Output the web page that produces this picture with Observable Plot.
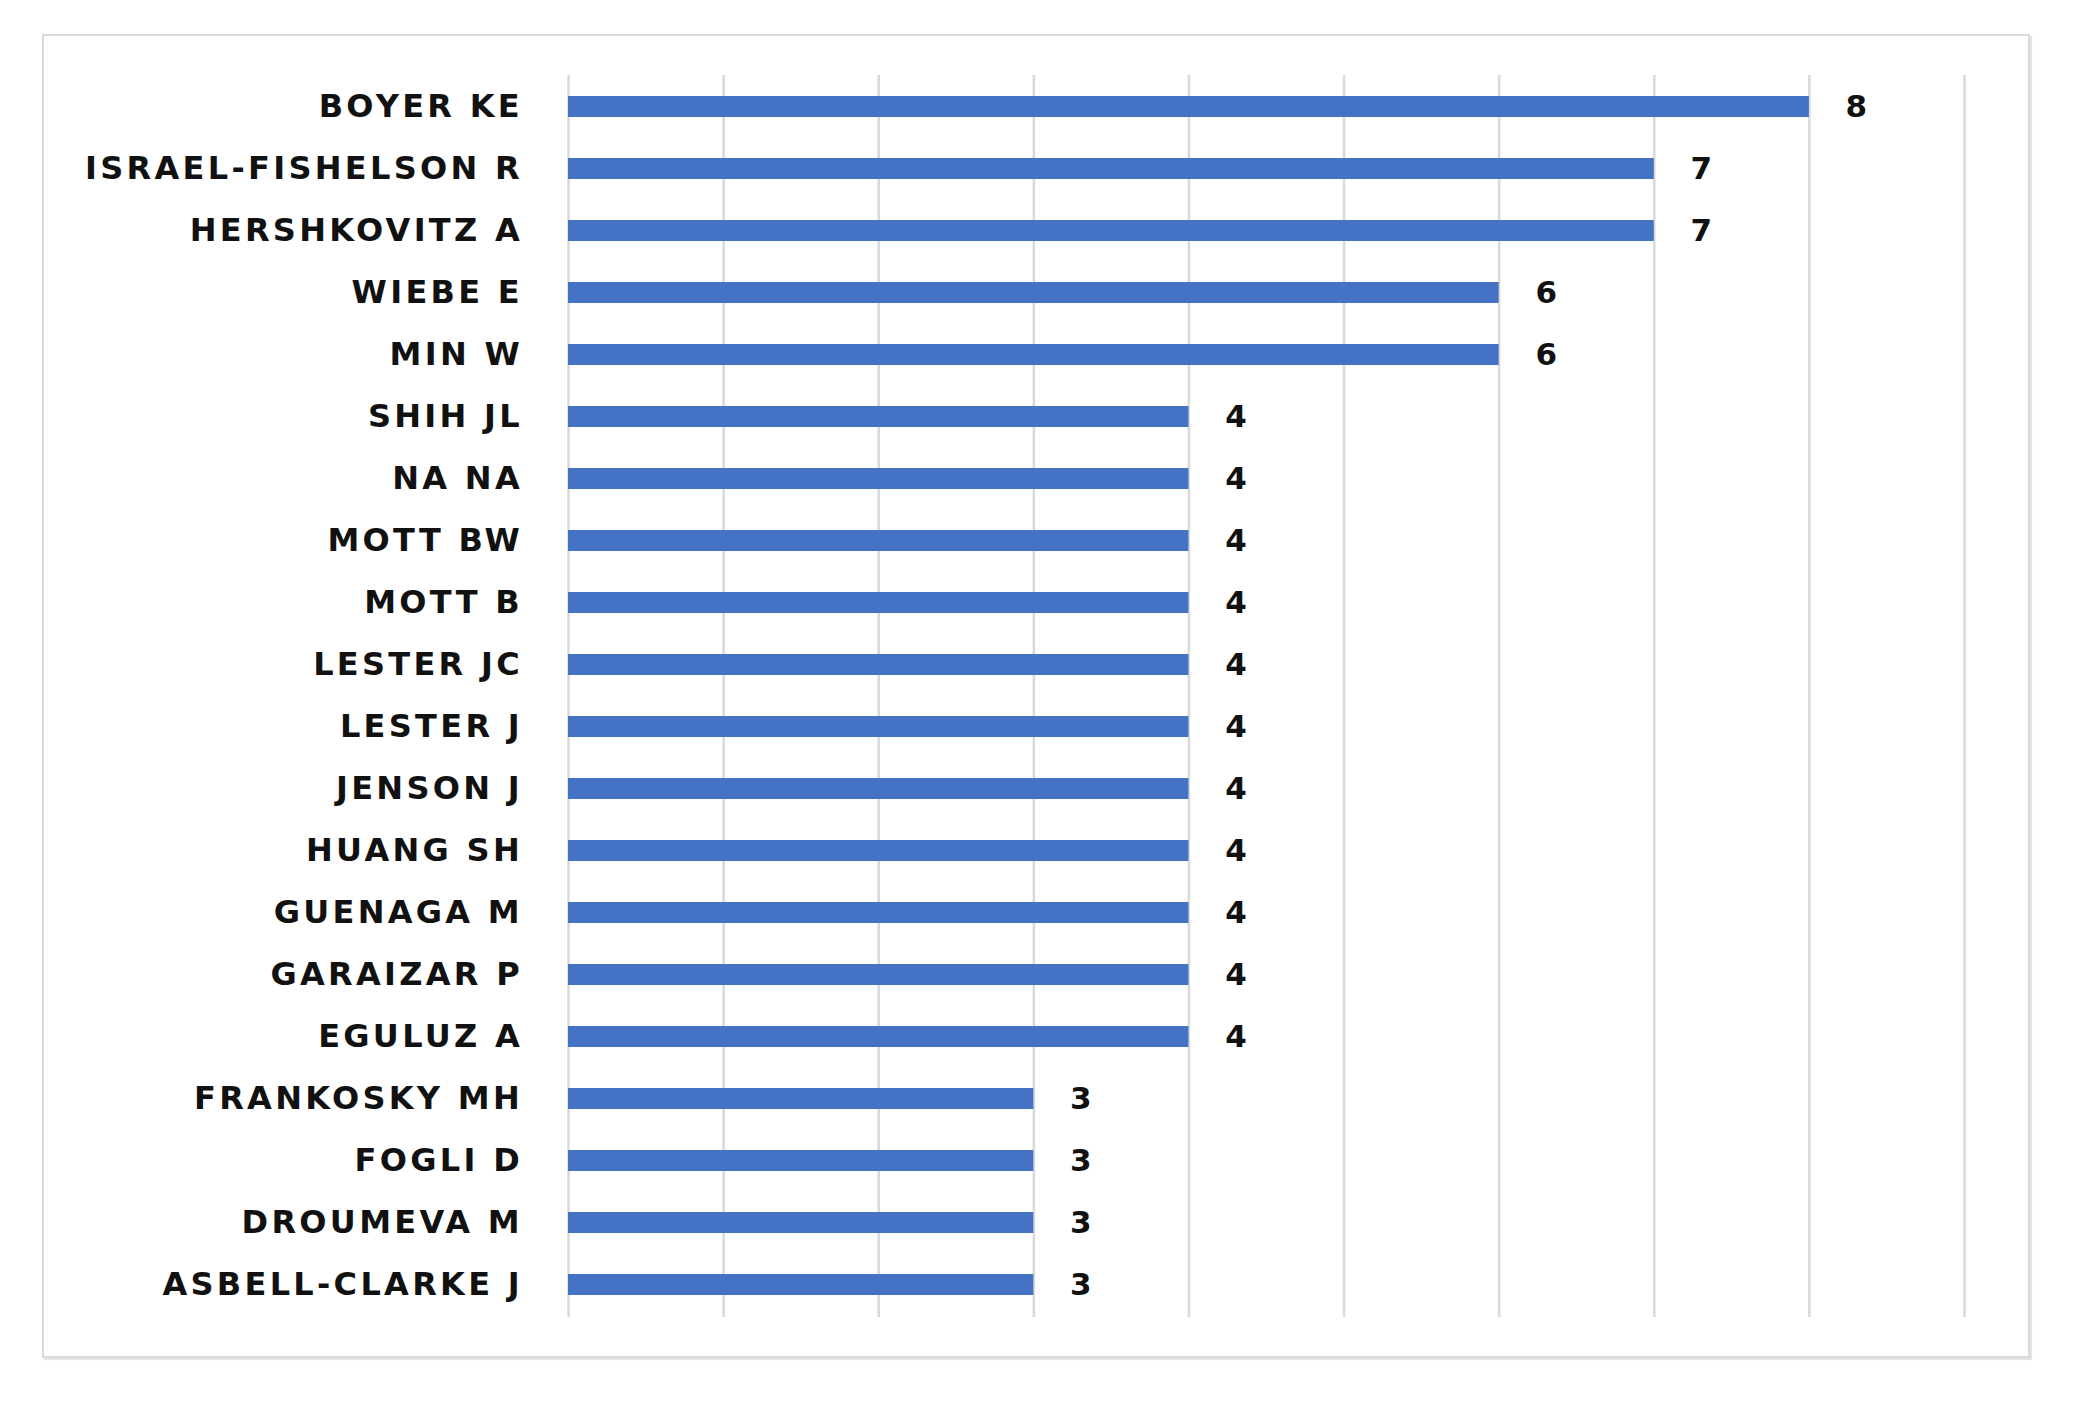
<!DOCTYPE html>
<html>
<head>
<meta charset="utf-8">
<script src="https://cdn.jsdelivr.net/npm/d3@7"></script>
<script src="https://cdn.jsdelivr.net/npm/@observablehq/plot@0.6"></script>
<style>
  html, body { margin: 0; padding: 0; background: #fff; }
  #wrap { position: relative; width: 2076px; height: 1406px; }
  #frame { position: absolute; left: 42px; top: 34px; width: 1984px; height: 1320px;
           border: 2px solid #d9d9d9; box-shadow: 2px 2px 1px #e4e4e4; pointer-events: none; }
  #chart { position: absolute; left: 0; top: 0; }
  #chart g[aria-label="y-axis tick label"] text { letter-spacing: 3.3px; }
</style>
</head>
<body>
<div id="wrap"><div id="frame"></div><div id="chart"></div></div>
<script>
const names = [
  "BOYER KE", "ISRAEL-FISHELSON R", "HERSHKOVITZ A", "WIEBE E", "MIN W",
  "SHIH JL", "NA NA", "MOTT BW", "MOTT B", "LESTER JC",
  "LESTER J", "JENSON J", "HUANG SH", "GUENAGA M", "GARAIZAR P",
  "EGULUZ A", "FRANKOSKY MH", "FOGLI D", "DROUMEVA M", "ASBELL-CLARKE J"
];
const counts = [8, 7, 7, 6, 6, 4, 4, 4, 4, 4, 4, 4, 4, 4, 4, 4, 3, 3, 3, 3];
const gridTicks = [0, 1, 2, 3, 4, 5, 6, 7, 8, 9];

const data = names.map((name, i) => ({name, value: counts[i]}));

const font = "'DejaVu Sans', sans-serif";

const chart = Plot.plot({
  width: 2076,
  height: 1406,
  marginLeft: 568,
  marginRight: 112,
  marginTop: 75,
  marginBottom: 89,
  style: {background: "transparent", fontFamily: font},
  x: {domain: [0, 9], axis: null},
  y: {domain: names, paddingInner: 0.66, paddingOuter: 0.33, label: null},
  marks: [
    Plot.gridX(gridTicks, {stroke: "#d9d9d9", strokeOpacity: 1, strokeWidth: 2.5}),
    Plot.barX(data, {x: "value", y: "name", fill: "#4472C4"}),
    Plot.text(data, {x: "value", y: "name", text: d => String(d.value), dx: 47,
      textAnchor: "middle", fontSize: 31, fontWeight: "bold", fill: "#111"}),
    Plot.axisY({tickSize: 0, tickPadding: 45.5, fontSize: 32, fontWeight: "bold", fill: "#111", label: null})
  ]
});
document.getElementById("chart").appendChild(chart);
</script>
</body>
</html>
